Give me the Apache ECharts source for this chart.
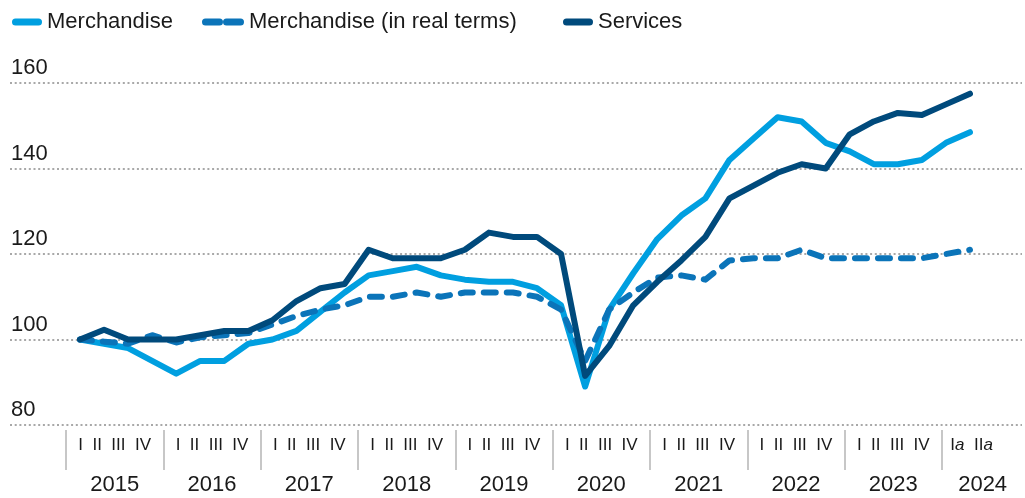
<!DOCTYPE html>
<html>
<head>
<meta charset="utf-8">
<script src="https://cdn.jsdelivr.net/npm/echarts@6/dist/echarts.min.js"></script>
<style>
  html, body { margin: 0; padding: 0; background: #fff; }
  #main { width: 1025px; height: 498px; }
</style>
</head>
<body>
<div id="main"></div>
<script>
// quarters 2015 Q1 .. 2024 Q2
var quarters = [
  "2015 I", "2015 II", "2015 III", "2015 IV",
  "2016 I", "2016 II", "2016 III", "2016 IV",
  "2017 I", "2017 II", "2017 III", "2017 IV",
  "2018 I", "2018 II", "2018 III", "2018 IV",
  "2019 I", "2019 II", "2019 III", "2019 IV",
  "2020 I", "2020 II", "2020 III", "2020 IV",
  "2021 I", "2021 II", "2021 III", "2021 IV",
  "2022 I", "2022 II", "2022 III", "2022 IV",
  "2023 I", "2023 II", "2023 III", "2023 IV",
  "2024 Ia", "2024 IIa"
];
var years = ["2015", "2016", "2017", "2018", "2019", "2020", "2021", "2022", "2023", "2024"];
var yTicks = [80, 100, 120, 140, 160];

var merchandise = [
  100, 99, 98, 95, 92, 95, 95, 99, 100, 102, 106.5, 111,
  115, 116, 117, 115, 114, 113.5, 113.5, 112, 108, 89, 107, 115.5,
  123.5, 129, 133, 142, 147, 152, 151, 146, 144, 141, 141, 142,
  146, 148.5
];
var merchandiseReal = [
  100, 99.5, 99, 101, 99.3, 100.5, 101, 101.5, 103.5, 105.5, 107, 108,
  110, 110, 111, 110, 111, 111, 111, 110, 107, 95, 107, 111,
  114.5, 115, 114, 118.5, 119, 119, 121, 119, 119, 119, 119, 119,
  120, 121
];
var services = [
  100, 102.3, 100, 100, 100, 101, 102, 102, 104.5, 109, 112, 113,
  121, 119, 119, 119, 121, 125, 124, 124, 120, 91.5, 98.5, 108,
  113.5, 118.5, 124, 133, 136, 139, 141, 140, 148, 151, 153, 152.5,
  155, 157.5
];

var cLight = "#009fe0";
var cMid = "#0b74b9";
var cDark = "#004a7c";
var font = "'Liberation Sans', Arial, Helvetica, sans-serif";

var capsule = "path://M3.5,0 H26.5 A3.5,3.5 0 0 1 26.5,7 H3.5 A3.5,3.5 0 0 1 3.5,0 Z";
var twoDash = "path://M3.5,0 H17.5 A3.5,3.5 0 0 1 17.5,7 H3.5 A3.5,3.5 0 0 1 3.5,0 Z " +
  "M24.5,0 H38.5 A3.5,3.5 0 0 1 38.5,7 H24.5 A3.5,3.5 0 0 1 24.5,0 Z";

function pairs(arr) {
  return arr.map(function (v, i) { return [i, v]; });
}

function legendItem(name, left, icon, w, color) {
  return {
    left: left,
    top: 6,
    selectedMode: false,
    itemWidth: w,
    itemHeight: 7,
    textStyle: { fontFamily: font, fontSize: 22, color: "#1a1a1a" },
    data: [{ name: name, icon: icon, itemStyle: { color: color } }]
  };
}

var chart = echarts.init(document.getElementById("main"));

var option = {
  animation: false,
  legend: [
    legendItem("Merchandise", 7, capsule, 30, cLight),
    legendItem("Merchandise (in real terms)", 197, twoDash, 42, cMid),
    legendItem("Services", 558, capsule, 30, cDark)
  ],
  grid: [
    { left: 10, right: 3, top: 83, bottom: 73, outerBoundsMode: "none" },
    // year bands, 2015 starts at x=66, each year ~97.3px wide (last one runs off the edge)
    { left: 66, width: 973.3, top: 83, bottom: 68, outerBoundsMode: "none" }
  ],
  xAxis: [
    {
      // quarter positions: index 0 sits at x=80, index 37 at x=970
      type: "value",
      gridIndex: 0,
      min: -2.91,
      max: 39.162,
      show: false
    },
    {
      type: "category",
      gridIndex: 1,
      data: years,
      boundaryGap: true,
      axisLine: { show: false },
      axisTick: {
        show: true,
        length: 40,
        lineStyle: { color: "#b5b5b5", width: 1.5 }
      },
      axisLabel: {
        margin: 0,
        interval: 0,
        formatter: function (y) {
          if (y === "2024") {
            return "{q|I}{qi|a}{q|  II}{qi|a}{p1|}\n{y24|" + y + "}";
          }
          return "{q|I  II  III  IV}\n{y|" + y + "}";
        },
        rich: {
          q: { fontFamily: font, fontSize: 17, color: "#1a1a1a", lineHeight: 30 },
          qi: { fontFamily: font, fontSize: 17, fontStyle: "italic", color: "#1a1a1a", lineHeight: 30 },
          p1: { width: 38, lineHeight: 30 },
          y: { fontFamily: font, fontSize: 22, color: "#1a1a1a", lineHeight: 50 },
          y24: { fontFamily: font, fontSize: 22, color: "#1a1a1a", lineHeight: 50, padding: [0, 16, 0, 0] }
        }
      }
    }
  ],
  yAxis: [
    {
      type: "value",
      gridIndex: 0,
      min: yTicks[0],
      max: yTicks[yTicks.length - 1],
      interval: 20,
      axisLine: { show: false },
      axisTick: { show: false },
      axisLabel: {
        inside: true,
        margin: 1,
        align: "left",
        verticalAlign: "bottom",
        padding: [0, 0, 4, 0],
        fontFamily: font,
        fontSize: 22,
        color: "#1a1a1a"
      },
      splitLine: {
        show: true,
        lineStyle: { color: "#a8a8a8", width: 2, type: [2, 2.7] }
      }
    },
    {
      type: "value",
      gridIndex: 1,
      show: false
    }
  ],
  series: [
    {
      name: "Merchandise",
      type: "line",
      xAxisIndex: 0,
      yAxisIndex: 0,
      data: pairs(merchandise),
      showSymbol: false,
      itemStyle: { color: cLight },
      lineStyle: { color: cLight, width: 6, cap: "round", join: "round" },
      z: 2
    },
    {
      name: "Merchandise (in real terms)",
      type: "line",
      xAxisIndex: 0,
      yAxisIndex: 0,
      data: pairs(merchandiseReal),
      showSymbol: false,
      itemStyle: { color: cMid },
      lineStyle: { color: cMid, width: 6, type: [12, 11], cap: "round", join: "round" },
      z: 3
    },
    {
      name: "Services",
      type: "line",
      xAxisIndex: 0,
      yAxisIndex: 0,
      data: pairs(services),
      showSymbol: false,
      itemStyle: { color: cDark },
      lineStyle: { color: cDark, width: 6, cap: "round", join: "round" },
      z: 4
    }
  ]
};

chart.setOption(option);
</script>
</body>
</html>
